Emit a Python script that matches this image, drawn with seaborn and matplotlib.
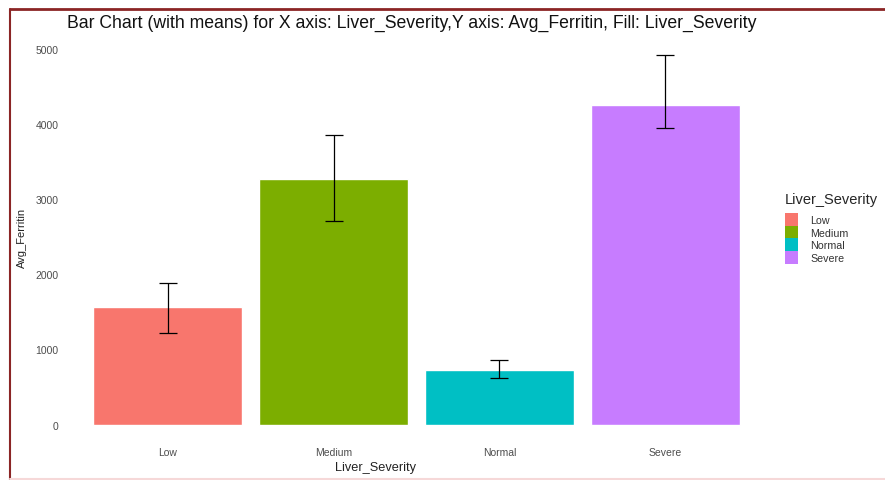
import matplotlib
matplotlib.use("Agg")
import matplotlib.pyplot as plt
import seaborn as sns
import pandas as pd
from matplotlib.patches import Patch
from matplotlib.lines import Line2D

# Mean ferritin per liver severity group, with error-bar limits
severity = ["Low", "Medium", "Normal", "Severe"]
avg_ferritin = [1560, 3270, 730, 4260]
err_low = [1215, 2705, 615, 3950]
err_high = [1880, 3855, 865, 4930]
palette = ["#F8766D", "#7CAE00", "#00BFC4", "#C77CFF"]
y_ticks = [0, 1000, 2000, 3000, 4000, 5000]

df = pd.DataFrame({"Liver_Severity": severity, "Avg_Ferritin": avg_ferritin})

sns.set_theme(style="white")
plt.rcParams["font.family"] = ["Liberation Sans", "DejaVu Sans"]

W, H = 885, 481
fig = plt.figure(figsize=(W / 100, H / 100), dpi=100)
ax = fig.add_axes([68 / W, 1 - 444 / H, (765 - 68) / W, (444 - 37) / H])

sns.barplot(data=df, x="Liver_Severity", y="Avg_Ferritin", hue="Liver_Severity",
            palette=palette, width=0.9, dodge=False, errorbar=None,
            saturation=1, legend=False, ax=ax)

pos = range(len(severity))
lower = [m - lo for m, lo in zip(avg_ferritin, err_low)]
upper = [hi - m for m, hi in zip(avg_ferritin, err_high)]
ax.errorbar(list(pos), avg_ferritin, yerr=[lower, upper], fmt="none",
            ecolor="black", elinewidth=0.9, capsize=6.5, capthick=0.9)

top = max(err_high)
ax.set_ylim(-0.05 * top, top * 1.05)
ax.set_xlim(-0.6, len(severity) - 0.4)
ax.set_yticks(y_ticks)
ax.set_yticklabels([str(v) for v in y_ticks])
ax.tick_params(axis="both", length=0, labelsize=7.5, labelcolor="#4d4d4d")
ax.tick_params(axis="y", pad=7)
ax.tick_params(axis="x", pad=3)
for s in ax.spines.values():
    s.set_visible(False)
ax.grid(False)

ax.set_xlabel("Liver_Severity", fontsize=9.2, color="#222222")
ax.xaxis.set_label_coords((376 - 68) / (765 - 68), -(468 - 444) / (444 - 37))
ax.xaxis.label.set_va("center")
ax.set_ylabel("Avg_Ferritin", fontsize=8, color="#222222")
ax.yaxis.set_label_coords(-(68 - 22) / (765 - 68), (444 - 238) / (444 - 37))
ax.yaxis.label.set_va("center")

fig.text(67 / W, 1 - 23 / H, "Bar Chart (with means) for X axis: Liver_Severity,Y axis: Avg_Ferritin, Fill: Liver_Severity",
         fontsize=12.7, color="#111111", ha="left", va="center")

handles = [Patch(facecolor=c, edgecolor="none") for c in palette]
leg = fig.legend(handles, severity, title="Liver_Severity", loc="upper left",
                 bbox_to_anchor=(785 / W, 1 - 193 / H), frameon=False,
                 fontsize=7.7, title_fontsize=10.5, handlelength=1.25, handleheight=1.45,
                 labelspacing=0.0, handletextpad=1.1, borderaxespad=0, borderpad=0)
leg._legend_box.align = "left"
leg._legend_box.sep = 5
for t in leg.get_texts():
    t.set_color("#333333")

# Dark red frame along the top and left edges
frame_col = "#8B2525"
fig.add_artist(Line2D([10 / W, 1.0], [1 - 9.5 / H, 1 - 9.5 / H], color=frame_col,
                      lw=2, transform=fig.transFigure))
fig.add_artist(Line2D([10 / W, 10 / W], [0, 1 - 9.5 / H], color=frame_col,
                      lw=1.5, transform=fig.transFigure))
fig.add_artist(Line2D([10 / W, 1.0], [1 / H, 1 / H], color="#f6d8d8",
                      lw=1.5, transform=fig.transFigure))

fig.savefig("out.png", dpi=100)
